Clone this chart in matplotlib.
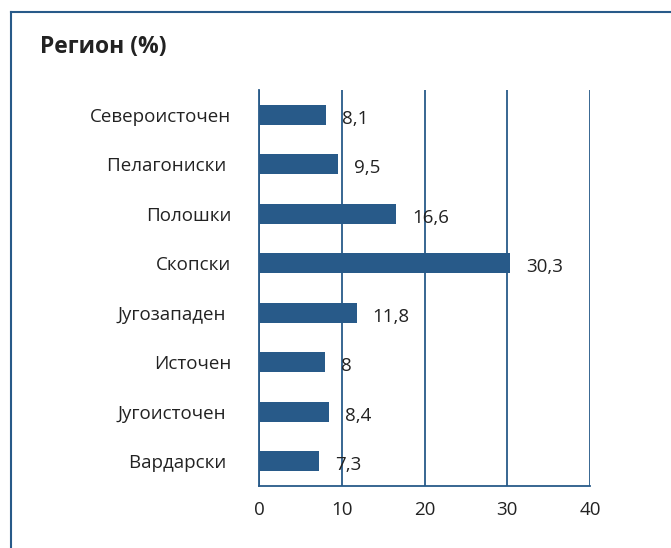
import matplotlib.pyplot as plt
from matplotlib.lines import Line2D

# data
regions = ["Североисточен", "Пелагониски ", "Полошки", "Скопски", "Југозападен ",
           "Источен", "Југоисточен ", "Вардарски "]
values = [8.1, 9.5, 16.6, 30.3, 11.8, 8, 8.4, 7.3]
value_labels = ["8,1", "9,5", "16,6", "30,3", "11,8", "8", "8,4", "7,3"]

blue = "#285a89"
plt.rcParams['font.family'] = ['Open Sans', 'DejaVu Sans']

fig = plt.figure(figsize=(6.71, 5.48), dpi=100)
W, H = 671, 548
ax = fig.add_axes([259 / W, 1 - 486 / H, (590 - 259) / W, (486 - 90) / H])

ypos = list(range(len(regions)))[::-1]
ax.barh(ypos, values, height=0.4, color=blue, zorder=3)
for y, v, lab in zip(ypos, values, value_labels):
    ax.annotate(lab, (v, y), xytext=(16, -4), textcoords="offset pixels",
                va="center", ha="left", fontsize=13.5, color="#222222", zorder=4)

ax.set_xlim(0, 40)
ax.set_ylim(-0.5, 7.5)
ax.set_xticks([0, 10, 20, 30, 40])
ax.set_yticks(ypos)
ax.set_yticklabels(regions)
ax.tick_params(axis="both", length=0, labelsize=13.5, colors="#222222")
ax.tick_params(axis="y", pad=20)
ax.tick_params(axis="x", pad=11)
ax.xaxis.grid(True, color=blue, linewidth=1.3, zorder=1)
for s in ["top", "right"]:
    ax.spines[s].set_visible(False)
for s in ["left", "bottom"]:
    ax.spines[s].set_color(blue)
    ax.spines[s].set_linewidth(1.3)

# outer frame
fig.add_artist(Line2D([11 / W, 1], [1 - 12 / H, 1 - 12 / H], color=blue, lw=1.5,
                      transform=fig.transFigure))
fig.add_artist(Line2D([11 / W, 11 / W], [0, 1 - 12 / H], color=blue, lw=1.5,
                      transform=fig.transFigure))

fig.text(40 / W, 1 - 47 / H, "Регион (%)", fontsize=16.5, fontweight="bold",
         va="center", ha="left", color="#222222")

fig.savefig("out.png", dpi=100)
